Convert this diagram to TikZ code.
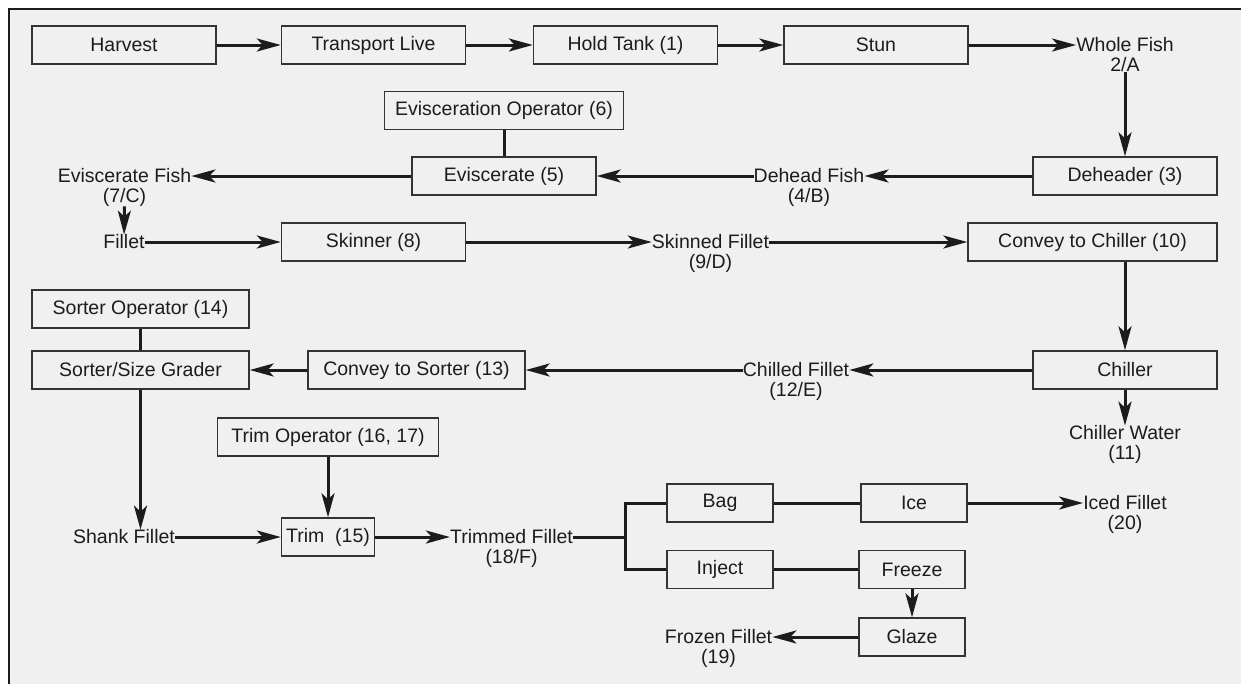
\documentclass[tikz,border=0pt]{standalone}
\usepackage{fontspec}
\setmainfont{Liberation Sans}
\usetikzlibrary{arrows.meta,positioning}
\definecolor{bggray}{HTML}{F0F0F0}
\definecolor{ink}{HTML}{1E1B1C}
\begin{document}
\begin{tikzpicture}[x=1pt, y=-1pt, node distance=4.5pt,
  every node/.style={font=\fontsize{19.5}{22}\selectfont, text=ink},
  main/.style={draw=ink!90, line width=1.4pt, minimum width=184pt, minimum height=38pt, inner sep=0pt},
  txt/.style={inner sep=0pt},
  flow/.style={draw=ink, line width=3pt},
  arr/.style={flow, -{Stealth[length=24pt, width=13pt, inset=6pt]}}]
\useasboundingbox (0,0) rectangle (1241,683);
\fill[white] (0,0) rectangle (1241,683);
\draw[line width=2.4pt, draw=ink, fill=bggray] (9,9) rectangle (1262,705);
% top row
\node[main] (1) at (124,45) {Harvest};
\node[main] (2) at (373.5,45) {Transport Live};
\node[main] (3) at (625.5,45) {Hold Tank (1)};
\node[main] (4) at (876,45) {Stun};
\node[txt] (5) at (1125,45) {Whole Fish};
\node[txt] (5n) [below=of 5] {2/A};
% second row
\node[main] (6) at (1125,176) {Deheader (3)};
\node[txt] (7) at (809,176) {Dehead Fish};
\node[txt] (7n) [below=of 7] {(4/B)};
\node[main] (8) at (504,176) {Eviscerate (5)};
\node[main, minimum width=239pt] (9) at (504,110.5) {Evisceration Operator (6)};
\node[txt] (10) at (124.5,176) {Eviscerate Fish};
\node[txt] (10n) [below=of 10] {(7/C)};
% third row
\node[txt] (11) at (124,242) {Fillet};
\node[main] (12) at (373.5,242) {Skinner (8)};
\node[txt] (13) at (710.5,242) {Skinned Fillet};
\node[txt] (13n) [below=of 13] {(9/D)};
\node[main, minimum width=249pt] (14) at (1092.5,242) {Convey to Chiller (10)};
% fourth row
\node[main] (15) at (1125,370) {Chiller};
\node[txt] (16) at (1125,433) {Chiller Water};
\node[txt] (16n) [below=of 16] {(11)};
\node[txt] (17) at (796,370) {Chilled Fillet};
\node[txt] (17n) [below=of 17] {(12/E)};
\node[main, minimum width=217pt] (18) at (416.5,370) {Convey to Sorter (13)};
\node[main, minimum width=217pt] (19) at (140.5,370) {Sorter/Size Grader};
\node[main, minimum width=217pt] (20) at (140.5,309) {Sorter Operator (14)};
% trim and packing
\node[txt] (21) at (124,537) {Shank Fillet};
\node[main, minimum width=221pt] (22) at (328,437) {Trim Operator (16, 17)};
\node[main, minimum width=93pt] (23) at (328,537) {Trim\ \ (15)};
\node[txt] (24) at (511.5,537) {Trimmed Fillet};
\node[txt] (24n) [below=of 24] {(18/F)};
\coordinate (split) at (625,537);
\node[main, minimum width=106pt] (25) at (720,503) {Bag};
\node[main, minimum width=106pt] (26) at (720,569.5) {Inject};
\node[main, minimum width=106pt] (27) at (914,503) {Ice};
\node[main, minimum width=106pt] (28) at (912,569.5) {Freeze};
\node[main, minimum width=106pt] (29) at (912,637) {Glaze};
\node[txt] (30) at (1125,503) {Iced Fillet};
\node[txt] (30n) [below=of 30] {(20)};
\node[txt] (31) at (718.5,637) {Frozen Fillet};
\node[txt] (31n) [below=of 31] {(19)};
% connectors
\draw[arr] (1) -- (2);
\draw[arr] (2) -- (3);
\draw[arr] (3) -- (4);
\draw[arr] (4) -- (5);
\draw[arr] (5n) -- (6);
\draw[arr] (6) -- (7);
\draw[arr] (7) -- (8);
\draw[flow] (9) -- (8);
\draw[arr] (8) -- (10);
\draw[arr] (10n) -- (11);
\draw[arr] (11) -- (12);
\draw[arr] (12) -- (13);
\draw[arr] (13) -- (14);
\draw[arr] (14.south -| 15.north) -- (15.north);
\draw[arr] (15) -- (16);
\draw[arr] (15) -- (17);
\draw[arr] (17) -- (18);
\draw[arr] (18) -- (19);
\draw[flow] (20) -- (19);
\draw[arr] (19.south) -- (19.south |- 21.north);
\draw[arr] (21) -- (23);
\draw[arr] (22) -- (23);
\draw[arr] (23) -- (24);
\draw[flow] (24) -- (split);
\draw[flow] (25.west) -| (split) |- (26.west);
\draw[flow] (25) -- (27);
\draw[arr] (27) -- (30);
\draw[flow] (26) -- (28);
\draw[arr] (28) -- (29);
\draw[arr] (29) -- (31);
\end{tikzpicture}
\end{document}
